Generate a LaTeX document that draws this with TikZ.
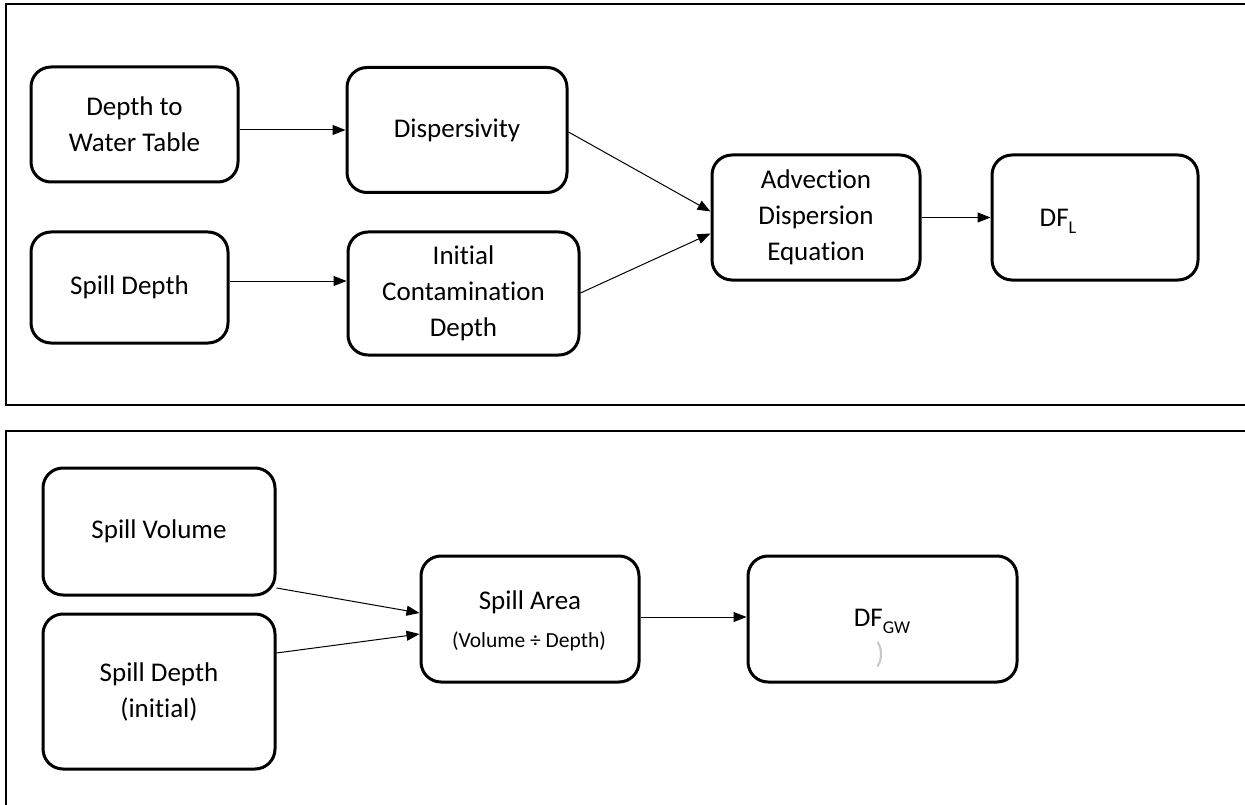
\documentclass[tikz,border=0pt]{standalone}
\usepackage{fontspec}
\setmainfont{Carlito}[Ligatures=NoCommon]
\usetikzlibrary{arrows.meta,calc}
\begin{document}
\begin{tikzpicture}[x=1pt,y=-1pt,
  bx/.style={draw=black, line width=3pt, rounded corners=20pt, align=center, inner sep=0pt,
    font=\fontsize{27}{36}\selectfont},
  frm/.style={draw=black, line width=2pt},
  conn/.style={draw=black, line width=1pt, -{Triangle[length=13pt,width=10pt]}},
  lbl/.style={inner sep=0pt, font=\fontsize{27}{36}\selectfont}]
\useasboundingbox (0,0) rectangle (1245,805);
\clip (0,0) rectangle (1245,805);
% frames
\draw[frm] (6,4.5) rectangle (1270,405);
\draw[frm] (6,431) rectangle (1270,840);
% top panel
\node[bx, minimum width=207, minimum height=115] (dwt) at (134.5,124.5) {Depth to\\Water Table};
\node[bx, minimum width=220, minimum height=125] (disp) at (457,130) {Dispersivity};
\node[bx, minimum width=197, minimum height=111] (sd) at (129.5,287.5) {Spill Depth};
\node[bx, minimum width=231, minimum height=123] (icd) at (463.5,293.5) {Initial\\Contamination\\Depth};
\node[bx, minimum width=208, minimum height=125] (adv) at (816,217.5) {Advection\\Dispersion\\Equation};
\node[bx, minimum width=206, minimum height=125] (dfl) at (1095,217.5) {};
\node[lbl] (dfltxt) at (1058,221) {DF\raisebox{-7pt}{\fontsize{18}{18}\selectfont L}};
\draw[conn] (dwt.east |- 0,130) -- (disp.west |- 0,130);
\draw[conn] (sd.east |- 0,281) -- (icd.west |- 0,281);
\draw[conn] (disp.east |- 0,132) -- ($(adv.west)+(0,-6)$);
\draw[conn] (icd.east |- 0,293) -- ($(adv.west)+(0,16)$);
\draw[conn] (adv.east) -- (dfl.west);
% bottom panel
\node[bx, minimum width=232, minimum height=127] (sv) at (159,531.5) {Spill Volume};
\node[bx, minimum width=232, minimum height=155] (sdi) at (159,691.5) {Spill Depth\\(initial)};
\node[bx, minimum width=218, minimum height=126] (sa) at (530,619) {};
\node[lbl] (satxt1) at (530,602) {Spill Area};
\node[inner sep=0pt, font=\fontsize{21.5}{24}\selectfont] (satxt2) at (529,641) {(Volume ÷ Depth)};
\node[bx, minimum width=269, minimum height=126] (dfgw) at (882.5,619) {};
\node[lbl] (dfgwtxt) at (882,621) {DF\raisebox{-7pt}{\fontsize{18}{18}\selectfont GW}};
\node[inner sep=0pt, text=black!22, font=\fontsize{30}{30}\selectfont] (stray) at (880,655) {)};
\draw[conn] (sv.east |- 0,588) -- ($(sa.west)+(0,-6)$);
\draw[conn] (sdi.east |- 0,653) -- ($(sa.west)+(0,15)$);
\draw[conn] (sa.east |- 0,617) -- (dfgw.west |- 0,617);
\end{tikzpicture}
\end{document}
